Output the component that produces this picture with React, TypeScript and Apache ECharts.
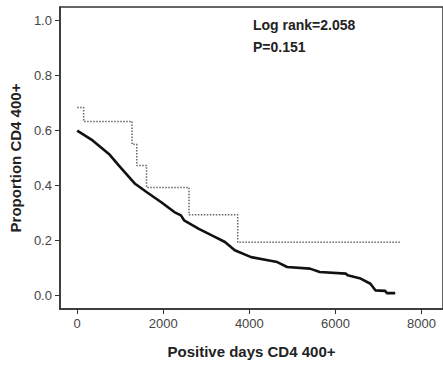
import React, { useEffect, useRef } from "react";
import * as echarts from "echarts";

// Kaplan-Meier estimates: proportion remaining CD4 400+ over positive days
const solidDays = [0, 358, 737, 965, 1345, 1611, 1954, 2257, 2410, 2484, 2826, 3129, 3434, 3662, 4041, 4460, 4649, 4877, 5408, 5636, 6244, 6283, 6586, 6814, 6928, 7156, 7194, 7390];
const solidProp = [0.6, 0.564, 0.515, 0.473, 0.406, 0.376, 0.339, 0.303, 0.291, 0.273, 0.242, 0.218, 0.194, 0.164, 0.139, 0.127, 0.121, 0.103, 0.097, 0.085, 0.079, 0.073, 0.061, 0.042, 0.018, 0.016, 0.008, 0.008];

const dottedDays = [0, 150, 1275, 1385, 1611, 2598, 3730, 7500];
const dottedProp = [0.684, 0.633, 0.55, 0.473, 0.393, 0.293, 0.193, 0.193];

const xTicks = [0, 2000, 4000, 6000, 8000];
const yTicks = [0, 0.2, 0.4, 0.6, 0.8, 1.0];

const logRankText = "Log rank=2.058";
const pValueText = "P=0.151";

const FONT = "'Liberation Sans', Arial, sans-serif";
const INK = "#222";

export default function App() {
  const ref = useRef<HTMLDivElement>(null);

  useEffect(() => {
    if (!ref.current) return;
    const chart = echarts.init(ref.current, undefined, { renderer: "svg" });
    const axisText = { color: "#444", fontFamily: FONT, fontSize: 13 };
    chart.setOption({
      animation: false,
      backgroundColor: "#fff",
      grid: {
        left: 58,
        top: 7,
        width: 390,
        height: 302,
        show: true,
        borderColor: "#333",
        borderWidth: 1.5,
      },
      xAxis: {
        type: "value",
        min: -400,
        max: 8500,
        name: "Positive days CD4 400+",
        nameLocation: "middle",
        nameGap: 35,
        nameTextStyle: { color: INK, fontFamily: FONT, fontSize: 15, fontWeight: "bold" },
        axisLine: { show: true, onZero: false, lineStyle: { color: "#333", width: 1.5 } },
        axisTick: { show: true, length: 5, inside: false, customValues: xTicks, lineStyle: { color: "#333" } },
        axisLabel: {
          ...axisText,
          margin: 8,
          customValues: xTicks,
          formatter: (v: number) => String(Math.round(v)),
        },
        splitLine: { show: false },
      },
      yAxis: {
        type: "value",
        min: -0.05,
        max: 1.05,
        name: "Proportion CD4 400+",
        nameLocation: "middle",
        nameGap: 35,
        nameTextStyle: { color: INK, fontFamily: FONT, fontSize: 15, fontWeight: "bold" },
        axisLine: { show: true, onZero: false, lineStyle: { color: "#333", width: 1.5 } },
        axisTick: { show: true, length: 5, inside: false, customValues: yTicks, lineStyle: { color: "#333" } },
        axisLabel: {
          ...axisText,
          margin: 8,
          customValues: yTicks,
          formatter: (v: number) => v.toFixed(1),
        },
        splitLine: { show: false },
      },
      series: [
        {
          type: "line",
          data: dottedDays.map((d, i) => [d, dottedProp[i]]),
          step: "end",
          showSymbol: false,
          lineStyle: { color: "#666", width: 1.5, type: "dotted" },
        },
        {
          type: "line",
          data: solidDays.map((d, i) => [d, solidProp[i]]),
          showSymbol: false,
          lineStyle: { color: "#111", width: 2.6 },
        },
      ],
      graphic: [
        {
          type: "text",
          style: { text: logRankText, x: 253, y: 25, fill: INK, font: `bold 14px ${FONT}`, verticalAlign: "middle" },
        },
        {
          type: "text",
          style: { text: pValueText, x: 253, y: 47, fill: INK, font: `bold 14px ${FONT}`, verticalAlign: "middle" },
        },
      ],
    });
    return () => chart.dispose();
  }, []);

  return (
    <div
      ref={ref}
      style={{ position: "fixed", left: 0, top: 0, width: 443, height: 367, background: "#fff" }}
    />
  );
}
